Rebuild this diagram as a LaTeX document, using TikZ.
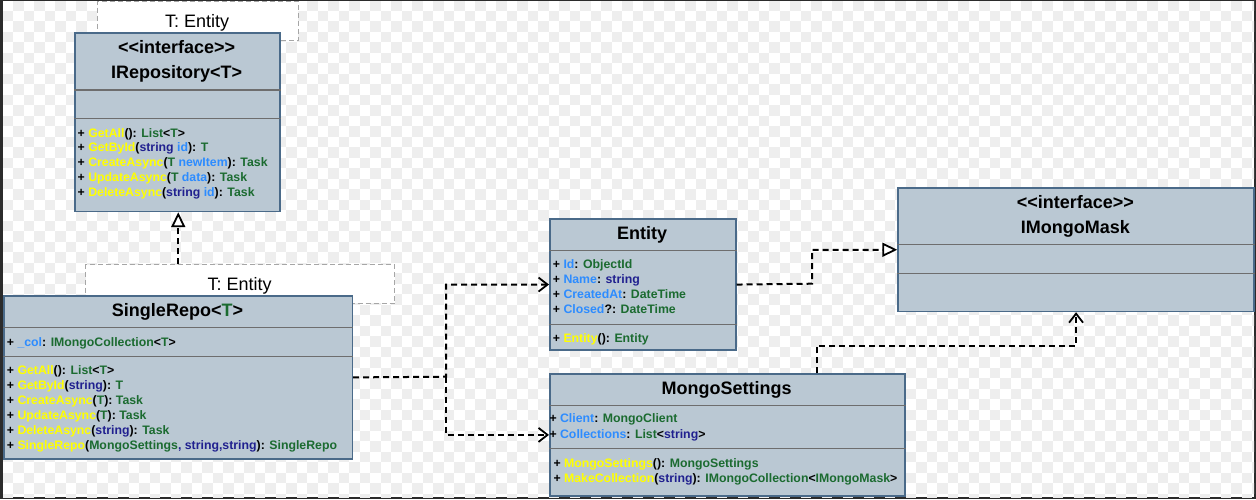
\documentclass[tikz,border=0pt]{standalone}
\usepackage{fontspec}
\setmainfont{Liberation Sans}
\usetikzlibrary{arrows.meta}
\definecolor{boxfill}{HTML}{BAC8D3}
\definecolor{boxline}{HTML}{4A6A89}
\definecolor{sepgray}{HTML}{6E6E6E}
\definecolor{checkgray}{HTML}{EEEEEE}
\definecolor{framedark}{HTML}{2B2B2B}
\definecolor{methyellow}{HTML}{FFFF00}
\definecolor{typegreen}{HTML}{1B6B30}
\definecolor{strnavy}{HTML}{20208F}
\definecolor{argblue}{HTML}{2D8CFF}
\newcommand{\mname}[1]{\textcolor{methyellow}{#1}}
\newcommand{\tname}[1]{\textcolor{typegreen}{#1}}
\newcommand{\sname}[1]{\textcolor{strnavy}{#1}}
\newcommand{\pname}[1]{\textcolor{argblue}{#1}}
\tikzset{
  classbox/.style={draw=boxline, fill=boxfill, line width=1.5pt, anchor=north west, inner sep=0},
  tmplbox/.style={draw=gray!70, fill=white, line width=1pt, dash pattern=on 5pt off 3pt, anchor=north west, inner sep=0},
  sepline/.style={draw=sepgray, line width=1.3pt},
  header/.style={anchor=base, inner sep=0, font=\fontsize{18}{20}\selectfont\bfseries},
  tmpltext/.style={anchor=base, inner sep=0, font=\fontsize{18}{20}\selectfont},
  member/.style={anchor=base west, inner sep=0, font=\fontsize{12.3}{14}\selectfont\bfseries},
  dep/.style={line width=2pt, dash pattern=on 6pt off 4pt, -{Straight Barb[length=9pt,width=14pt,line width=1.8pt]}},
  real/.style={line width=2pt, dash pattern=on 6pt off 4pt, -{Triangle[length=15pt,width=14pt,fill=white,line width=1.8pt]}}
}
\begin{document}
\begin{tikzpicture}[x=1pt, y=-1pt]
\useasboundingbox (0,0) rectangle (1256,499);
% frame and checker background
\fill[framedark] (0,0) rectangle (1256,499);
\fill[white] (3,1) rectangle (1254,497);
\begin{scope}
\clip (3,1) rectangle (1254,497);
\foreach \j in {0,...,47}{
  \foreach \i in {0,2,...,118}{
    \pgfmathsetmacro{\cx}{2.8+10.5*(\i+1-mod(\j,2))}
    \fill[checkgray] (\cx,{0.2+10.5*\j}) rectangle ++(10.5,10.5);
  }
}
\end{scope}

% template parameters
\node[tmplbox, minimum width=201, minimum height=39.5] (tmpl1) at (96.7,0.5) {};
\node[tmpltext] (tmpl1txt) at (197.2,27.4) {T: Entity};
\node[tmplbox, minimum width=309.3, minimum height=38.4] (tmpl2) at (85,264.3) {};
\node[tmpltext] (tmpl2txt) at (239.6,290.4) {T: Entity};

% IRepository
\node[classbox, minimum width=205.3, minimum height=178.4] (irepo) at (74,32.3) {};
\draw[sepline] (irepo.west |- 0,90) -- (irepo.east |- 0,90);
\draw[sepline] (irepo.west |- 0,118.3) -- (irepo.east |- 0,118.3);
\node[header] (irst) at (176.7,53) {<\kern0pt<interface>\kern0pt>};
\node[header] (irname) at (176.7,78) {IRepository<T>};
\foreach \txt [count=\k] in {
  {+ \mname{GetAll}(): \tname{List}<\tname{T}>},
  {+ \mname{GetById}(\sname{string} \pname{id}): \tname{T}},
  {+ \mname{CreateAsync}(\tname{T} \pname{newItem}): \tname{Task}},
  {+ \mname{UpdateAsync}(\tname{T} \pname{data}): \tname{Task}},
  {+ \mname{DeleteAsync}(\sname{string} \pname{id}): \tname{Task}}}
  \node[member] (irm\k) at (77.5,{137+14.9*(\k-1)}) {\txt};

% SingleRepo
\node[classbox, minimum width=348.4, minimum height=163.3] (srepo) at (3.3,295) {};
\draw[sepline] (srepo.west |- 0,327.7) -- (srepo.east |- 0,327.7);
\draw[sepline] (srepo.west |- 0,356.3) -- (srepo.east |- 0,356.3);
\node[header] (srname) at (177.5,316.4) {SingleRepo<\tname{T}>};
\node[member] (sra1) at (6.7,346) {+ \pname{\_col}: \tname{IMongoCollection}<\tname{T}>};
\foreach \txt [count=\k] in {
  {+ \mname{GetAll}(): \tname{List}<\tname{T}>},
  {+ \mname{GetById}(\sname{string}): \tname{T}},
  {+ \mname{CreateAsync}(\tname{T}): \tname{Task}},
  {+ \mname{UpdateAsync}(\tname{T}): \tname{Task}},
  {+ \mname{DeleteAsync}(\sname{string}): \tname{Task}},
  {+ \mname{SingleRepo}(\tname{MongoSettings}\sname{, string,string}): \tname{SingleRepo}}}
  \node[member] (srm\k) at (6.7,{374.3+15*(\k-1)}) {\txt};

% Entity
\node[classbox, minimum width=186, minimum height=131] (entity) at (549,218.3) {};
\draw[sepline] (entity.west |- 0,250.2) -- (entity.east |- 0,250.2);
\draw[sepline] (entity.west |- 0,324.3) -- (entity.east |- 0,324.3);
\node[header] (enname) at (642,239) {Entity};
\foreach \txt [count=\k] in {
  {+ \pname{Id}: \tname{ObjectId}},
  {+ \pname{Name}: \sname{string}},
  {+ \pname{CreatedAt}: \tname{DateTime}},
  {+ \pname{Closed}?: \tname{DateTime}}}
  \node[member] (ena\k) at (552.7,{268.3+15*(\k-1)}) {\txt};
\node[member] (enm1) at (552.7,342) {+ \mname{Entity}(): \tname{Entity}};

% MongoSettings
\node[classbox, minimum width=355, minimum height=121.7] (mset) at (549,373.3) {};
\draw[sepline] (mset.west |- 0,405.7) -- (mset.east |- 0,405.7);
\draw[sepline] (mset.west |- 0,448.3) -- (mset.east |- 0,448.3);
\node[header] (msname) at (726.5,394) {MongoSettings};
\node[member] (msa1) at (549.3,422.6) {+ \pname{Client}: \tname{MongoClient}};
\node[member] (msa2) at (549.3,438.3) {+ \pname{Collections}: \tname{List}<\sname{string}>};
\node[member] (msm1) at (553.3,467.6) {+ \mname{MongoSettings}(): \tname{MongoSettings}};
\node[member] (msm2) at (553.3,482.6) {+ \mname{MakeCollection}(\sname{string}): \tname{IMongoCollection}<\tname{IMongoMask}>};

% IMongoMask
\node[classbox, minimum width=356, minimum height=123.4] (imask) at (897.3,187.3) {};
\draw[sepline] (imask.west |- 0,244.3) -- (imask.east |- 0,244.3);
\draw[sepline] (imask.west |- 0,273.3) -- (imask.east |- 0,273.3);
\node[header] (imst) at (1075.3,208) {<\kern0pt<interface>\kern0pt>};
\node[header] (imname) at (1075.3,233) {IMongoMask};

% connectors
\coordinate (fork) at (446,376.7);
\draw[dep] (srepo.east) -- (fork) |- (entity.west);
\draw[dep] (fork) |- (mset.west);
\coordinate (ebend) at (812,283.7);
\draw[real] (entity.east) -- (ebend) |- (imask.west);
\coordinate (mbend) at (816.7,345.7);
\draw[dep] (mset.north -| mbend) -- (mbend) -| (imask.south);
\draw[real] (srepo.north |- tmpl2.north) -- (srepo.north |- irepo.south);
\end{tikzpicture}
\end{document}
